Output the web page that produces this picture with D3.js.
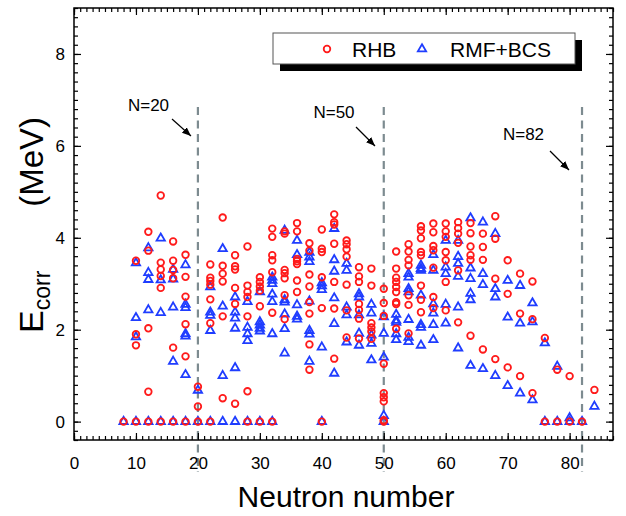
<!DOCTYPE html>
<html><head><meta charset="utf-8">
<script src="https://cdn.jsdelivr.net/npm/d3@7"></script>
<style>body{margin:0;background:#fff;} svg{display:block;font-family:"Liberation Sans",Arial,sans-serif;}</style>
</head><body><svg id="c" width="626" height="516"></svg>
<script>
// ---------- data ----------
const xTickValues = [0,10,20,30,40,50,60,70,80];
const yTickValues = [0,2,4,6,8];
const magicNumbers = [20,50,82];
const magicLabels = ["N=20","N=50","N=82"];
const seriesNames = ["RHB","RMF+BCS"];

// RHB: [neutron number, list of E_corr values]
const rhbColumns = [
  [8,[0]],
  [10,[3.50,1.90,1.66,0]],
  [12,[4.13,3.72,2.03,0.65,0]],
  [14,[4.92,3.46,3.31,3.17,2.91,0]],
  [16,[3.92,3.50,3.30,3.12,1.61,0]],
  [18,[3.63,3.15,2.72,2.12,1.42,0]],
  [20,[0.76,0.33,0]],
  [22,[3.42,3.13,3.06,2.98,2.66,2.14,0]],
  [24,[4.44,3.39,3.22,3.05,2.29,0.51]],
  [26,[3.62,3.38,3.31,2.91,2.56,0.39]],
  [28,[3.81,2.96,2.82,2.71,2.29,0.66,0]],
  [30,[3.14,3.04,2.94,2.85,2.51,0]],
  [32,[4.20,4.02,3.62,3.51,3.25,2.37,0]],
  [34,[4.14,4.09,3.30,3.23,3.12,2.75,2.23]],
  [36,[4.32,4.14,3.54,3.49,3.43,3.07,2.82]],
  [38,[3.88,3.72,3.20,2.94,2.60,2.35,1.68,1.13]],
  [40,[4.18,3.76,3.69,3.14,2.47,0]],
  [42,[4.51,4.34,4.29,3.87,3.04,2.46,1.37]],
  [44,[3.94,3.86,3.75,3.59,2.98,2.42,1.83]],
  [46,[3.36,3.16,3.04,2.56,2.43,2.24,1.81]],
  [48,[3.33,2.96,2.14,2.05,1.96,1.80]],
  [50,[2.89,2.58,2.30,1.26,0.62,0.53,0.44,0.03,0]],
  [52,[3.70,3.33,3.13,3.04,2.93,2.82,2.60,2.56,2.02]],
  [54,[3.86,3.70,3.52,3.40,2.75,2.54,1.92]],
  [56,[4.25,4.16,3.99,3.69,3.62,2.96,2.65,2.38]],
  [58,[4.31,4.12,3.82,3.73,3.35,2.71,2.47]],
  [60,[4.31,4.14,4.02,3.69,3.51,3.04,2.42]],
  [62,[4.34,4.21,4.09,3.89,3.29,2.16]],
  [64,[4.32,4.10,3.81,3.62,3.52,1.87]],
  [66,[4.09,3.80,3.52,1.57]],
  [68,[4.47,3.98,3.11,1.36]],
  [70,[3.51,2.78,1.18]],
  [72,[3.22,2.35,0.99]],
  [74,[3.05,2.23,0.62]],
  [76,[1.82,0]],
  [78,[1.13,0]],
  [80,[0.99,0]],
  [82,[0]],
  [84,[0.69]]
];

// RMF+BCS: [neutron number, list of E_corr values]
const bcsColumns = [
  [8,[0]],
  [10,[3.45,2.26,1.84,0]],
  [12,[3.78,3.24,3.09,2.43,0]],
  [14,[3.99,3.08,2.37,0]],
  [16,[3.31,3.10,2.49,1.31,0]],
  [18,[3.41,2.55,2.48,1.91,1.86,1.02,0]],
  [20,[0.68,0]],
  [22,[2.93,2.38,2.31,1.98,0]],
  [24,[3.76,2.51,1.00,0]],
  [26,[2.71,2.38,2.25,2.03,1.17,0]],
  [28,[2.61,2.05,1.91,1.76,0]],
  [30,[2.82,2.17,2.10,2.03,1.97,0]],
  [32,[3.14,3.07,3.00,2.77,2.61,1.91,0]],
  [34,[4.16,2.65,2.60,2.34,2.02,1.49]],
  [36,[3.94,3.63,2.54,2.29,2.23]],
  [38,[3.68,3.58,3.48,2.62,1.98,1.90,1.31]],
  [40,[3.02,2.95,2.87,1.62,0]],
  [42,[4.20,3.52,3.27,2.69,2.13,1.05]],
  [44,[3.44,3.29,2.49,2.32,1.73]],
  [46,[2.78,2.71,2.32,1.92,1.66]],
  [48,[2.55,2.36,1.88,1.70,1.34]],
  [50,[2.28,1.92,1.40,0.13,0]],
  [52,[2.33,2.20,2.16,1.91,1.78]],
  [54,[3.22,3.14,2.89,2.82,2.22,1.83,1.74]],
  [56,[3.40,3.33,3.29,2.75,2.11,2.05,1.66]],
  [58,[3.63,3.29,2.56,2.36,2.11,1.78]],
  [60,[3.94,3.36,3.22,2.55,2.14]],
  [62,[3.94,3.59,3.44,3.16,2.49,1.60]],
  [64,[4.43,3.34,3.11,2.79,2.65,1.22]],
  [66,[4.34,3.22,2.98,1.15]],
  [68,[4.09,2.89,2.71,1.00]],
  [70,[3.07,2.27,0.78]],
  [72,[2.96,2.14,0.62]],
  [74,[2.58,2.17,0.47]],
  [76,[1.71,0]],
  [78,[1.20,0]],
  [80,[0.08,0]],
  [82,[0]],
  [84,[0.33]]
];

// ---------- chart ----------
const flat = cols => cols.flatMap(([n, vals]) => vals.map(v => ({n, v})));
const rhb = flat(rhbColumns), bcs = flat(bcsColumns);

const svg = d3.select("#c");
const L = 74, R = 613, T = 8, B = 440;
const x = d3.scaleLinear().domain([0, 87]).range([L, R]);
const y = d3.scaleLinear().domain([-0.4, 9.0]).range([B, T]);
const red = "#ff1a1a", blue = "#1f3dff";

// dashed magic-number lines
svg.append("g").selectAll("line").data(magicNumbers).join("line")
  .attr("x1", d => x(d)).attr("x2", d => x(d))
  .attr("y1", 107).attr("y2", 472)
  .attr("stroke", "#7d8b90").attr("stroke-width", 2.2)
  .attr("stroke-dasharray", "8,5.5");

// axes
function styleAxis(g){ g.select(".domain").remove(); g.selectAll("line").attr("stroke","#000").attr("stroke-width",1.2); }
const fs = "17px";
svg.append("g").attr("transform",`translate(0,${B})`)
  .call(d3.axisBottom(x).tickValues(d3.range(0,88,1)).tickSize(-4).tickFormat("")).call(styleAxis);
svg.append("g").attr("transform",`translate(0,${B})`)
  .call(d3.axisBottom(x).tickValues(xTickValues).tickSize(-7).tickPadding(17).tickFormat(d3.format("d")))
  .call(styleAxis).selectAll("text").attr("font-size",fs).attr("fill","#000");
svg.append("g").attr("transform",`translate(0,${T})`)
  .call(d3.axisTop(x).tickValues(d3.range(0,88,1)).tickSize(-4).tickFormat("")).call(styleAxis);
svg.append("g").attr("transform",`translate(0,${T})`)
  .call(d3.axisTop(x).tickValues(xTickValues).tickSize(-7).tickFormat("")).call(styleAxis);

const yMinor = d3.range(-0.4, 9.01, 0.2).map(v => +v.toFixed(1));
svg.append("g").attr("transform",`translate(${L},0)`)
  .call(d3.axisLeft(y).tickValues(yMinor).tickSize(-4).tickFormat("")).call(styleAxis);
svg.append("g").attr("transform",`translate(${L},0)`)
  .call(d3.axisLeft(y).tickValues(yTickValues).tickSize(-7).tickPadding(9).tickFormat(d3.format("d")))
  .call(styleAxis).selectAll("text").attr("font-size",fs).attr("fill","#000");
svg.append("g").attr("transform",`translate(${R},0)`)
  .call(d3.axisRight(y).tickValues(yMinor).tickSize(-4).tickFormat("")).call(styleAxis);
svg.append("g").attr("transform",`translate(${R},0)`)
  .call(d3.axisRight(y).tickValues(yTickValues).tickSize(-7).tickFormat("")).call(styleAxis);

// frame
svg.append("rect").attr("x",L).attr("y",T).attr("width",R-L).attr("height",B-T)
  .attr("fill","none").attr("stroke","#000").attr("stroke-width",1.5);

// points
const tri = d3.symbol().type(d3.symbolTriangle).size(30);
svg.append("g").selectAll("path").data(bcs).join("path")
  .attr("d", tri).attr("transform", d => `translate(${x(d.n)},${y(d.v)})`)
  .attr("fill","none").attr("stroke",blue).attr("stroke-width",1.8);
svg.append("g").selectAll("circle").data(rhb).join("circle")
  .attr("cx", d => x(d.n)).attr("cy", d => y(d.v)).attr("r", 3.3)
  .attr("fill","none").attr("stroke",red).attr("stroke-width",1.8);

// annotations
svg.append("defs").append("marker").attr("id","ah").attr("viewBox","0 0 10 10")
  .attr("refX",10).attr("refY",5).attr("markerWidth",9).attr("markerHeight",9)
  .attr("markerUnits","userSpaceOnUse").attr("orient","auto")
  .append("path").attr("d","M0,1 L10,5 L0,9 Z").attr("fill","#000");
const annText = [[148.5,111],[334,118],[523.5,140]];
const annArrow = [[172,119,191,136],[356,127,375,146],[550,151,569,170]];
magicLabels.forEach((t,i) => {
  svg.append("text").attr("x",annText[i][0]).attr("y",annText[i][1]).attr("text-anchor","middle")
    .attr("font-size","17px").text(t);
  const a = annArrow[i];
  svg.append("line").attr("x1",a[0]).attr("y1",a[1]).attr("x2",a[2]).attr("y2",a[3])
    .attr("stroke","#000").attr("stroke-width",1.2).attr("marker-end","url(#ah)");
});

// legend
const lg = svg.append("g");
lg.append("rect").attr("x",280).attr("y",40).attr("width",302).attr("height",31).attr("fill","#000");
lg.append("rect").attr("x",273).attr("y",33).attr("width",302).attr("height",31).attr("fill","#fff")
  .attr("stroke","#555").attr("stroke-width",1);
lg.append("circle").attr("cx",327).attr("cy",49).attr("r",3.3).attr("fill","none").attr("stroke",red).attr("stroke-width",1.8);
lg.append("text").attr("x",352).attr("y",57).attr("font-size","21px").text(seriesNames[0]);
lg.append("path").attr("d",tri).attr("transform","translate(422,49)").attr("fill","none").attr("stroke",blue).attr("stroke-width",1.8);
lg.append("text").attr("x",450).attr("y",57).attr("font-size","21px").text(seriesNames[1]);

// axis titles
svg.append("text").attr("x",346).attr("y",507).attr("text-anchor","middle")
  .attr("font-size","30px").text("Neutron number");
const yt = svg.append("text").attr("transform","translate(43,333) rotate(-90)")
  .attr("text-anchor","start").attr("font-size","34px");
yt.append("tspan").text("E");
yt.append("tspan").attr("font-size","23px").attr("dy",7).text("corr");
svg.append("text").attr("transform","translate(43,117) rotate(-90)")
  .attr("text-anchor","end").attr("font-size","33px").text("(MeV)");
</script></body></html>
